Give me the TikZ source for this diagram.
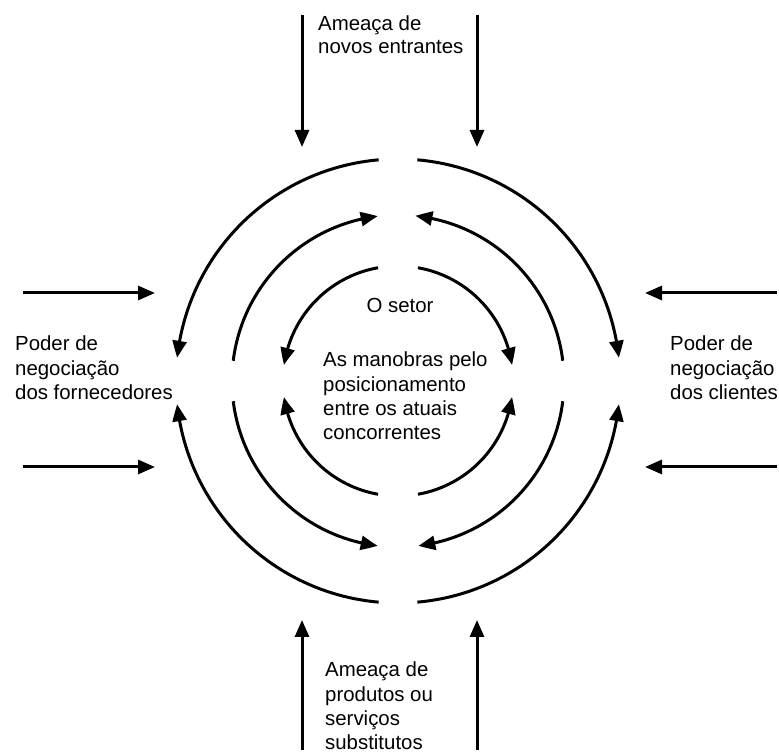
\documentclass[tikz,border=0pt]{standalone}
\usepackage{fontspec}
\setmainfont{Liberation Sans}
\usetikzlibrary{arrows.meta,bending}

\begin{document}
\begin{tikzpicture}[x=1pt,y=1pt,
  force/.style={line width=3pt,-{Triangle[length=17pt,width=14pt]}},
  ringarrow/.style={line width=3pt,-{Triangle[length=17pt,width=14pt,bend]}},
  label/.style={inner sep=0pt,align=left,font=\fontsize{20.4}{24.3}\selectfont}]
\useasboundingbox (0,0) rectangle (779,754);

\coordinate (C) at (398,373);

% external forces: straight arrows
\coordinate (t1s) at (302,739); \coordinate (t1e) at (302,607);
\coordinate (t2s) at (477,739); \coordinate (t2e) at (477,607);
\coordinate (b1s) at (302,4);   \coordinate (b1e) at (302,134);
\coordinate (b2s) at (477,4);   \coordinate (b2e) at (477,134);
\coordinate (l1s) at (23,461);  \coordinate (l1e) at (155,461);
\coordinate (l2s) at (23,287);  \coordinate (l2e) at (155,287);
\coordinate (r1s) at (777,461); \coordinate (r1e) at (645,461);
\coordinate (r2s) at (777,287); \coordinate (r2e) at (645,287);
\foreach \a in {t1,t2,b1,b2,l1,l2,r1,r2}
  \draw[force] (\a s) -- (\a e);

% outer ring: from top and bottom towards the sides
\draw[ringarrow] ([shift={(C)}]95:222) arc[start angle=95,end angle=174,radius=222];
\draw[ringarrow] ([shift={(C)}]85:222) arc[start angle=85,end angle=6,radius=222];
\draw[ringarrow] ([shift={(C)}]265:222) arc[start angle=265,end angle=186,radius=222];
\draw[ringarrow] ([shift={(C)}]275:222) arc[start angle=275,end angle=354,radius=222];

% middle ring: from the sides towards top and bottom
\draw[ringarrow] ([shift={(C)}]173:166) arc[start angle=173,end angle=97,radius=166];
\draw[ringarrow] ([shift={(C)}]7:166) arc[start angle=7,end angle=84,radius=166];
\draw[ringarrow] ([shift={(C)}]187:166) arc[start angle=187,end angle=263,radius=166];
\draw[ringarrow] ([shift={(C)}]353:166) arc[start angle=353,end angle=277,radius=166];

% inner ring: from top and bottom towards the sides
\draw[ringarrow] ([shift={(C)}]100:115) arc[start angle=100,end angle=172,radius=115];
\draw[ringarrow] ([shift={(C)}]80:115) arc[start angle=80,end angle=8,radius=115];
\draw[ringarrow] ([shift={(C)}]260:115) arc[start angle=260,end angle=188,radius=115];
\draw[ringarrow] ([shift={(C)}]280:115) arc[start angle=280,end angle=352,radius=115];

% labels
\node[label,anchor=north west,font=\fontsize{20.4}{23}\selectfont] (novos) at (318,738)
  {Ameaça de\\novos entrantes};
\node[label,anchor=north west] (fornec) at (15,418)
  {Poder de\\negociação\\dos fornecedores};
\node[label,anchor=north west] (client) at (670,418)
  {Poder de\\negociação\\dos clientes};
\node[label,anchor=north] (setor) at (400,456) {O setor};
\node[label,anchor=north west] (manobras) at (323,402)
  {As manobras pelo\\posicionamento\\entre os atuais\\concorrentes};
\node[label,anchor=north west] (subst) at (325,92)
  {Ameaça de\\produtos ou\\serviços\\substitutos};
\end{tikzpicture}
\end{document}
